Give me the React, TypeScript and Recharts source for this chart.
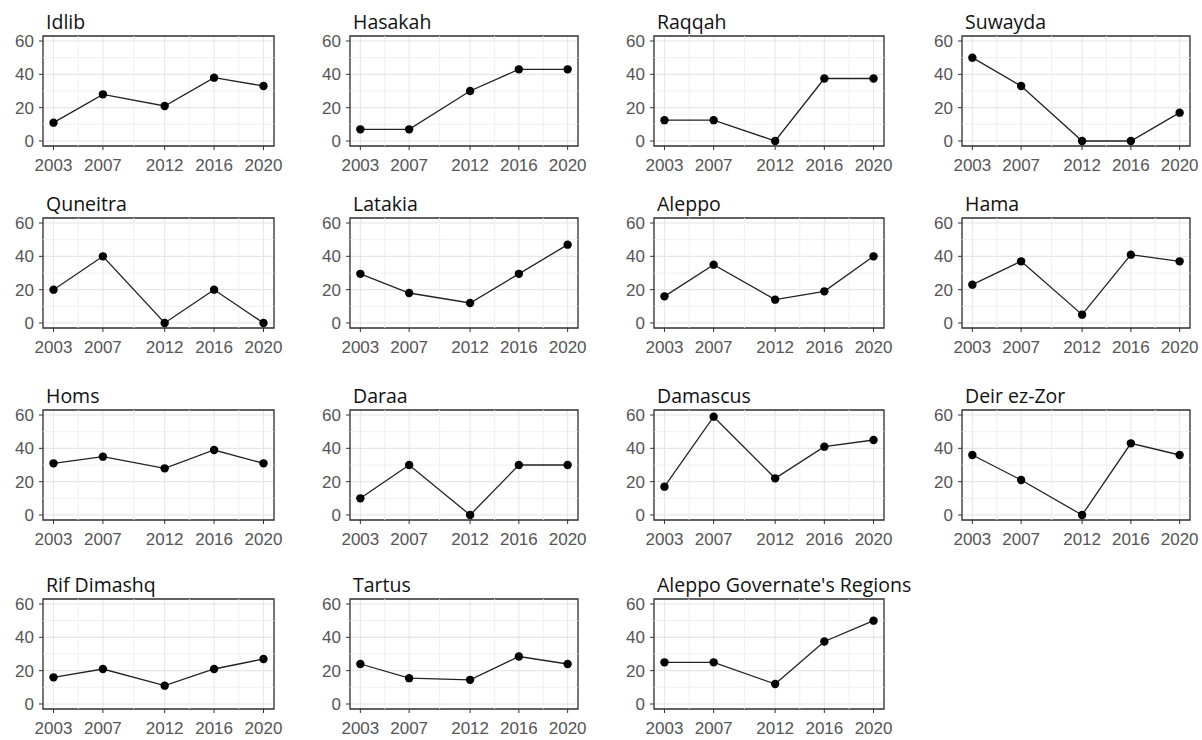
import React from 'react'
import {
  LineChart,
  Line,
  XAxis,
  YAxis,
  CartesianGrid,
  ReferenceLine,
  ReferenceArea,
} from 'recharts'

// survey years and axis ticks
const YEARS = [2003, 2007, 2012, 2016, 2020]
const Y_TICKS = [0, 20, 40, 60]
const X_MINOR = [2005, 2009.5, 2014, 2018]
const Y_MINOR = [10, 30, 50]

const REGIONS = [
  'Idlib',
  'Hasakah',
  'Raqqah',
  'Suwayda',
  'Quneitra',
  'Latakia',
  'Aleppo',
  'Hama',
  'Homs',
  'Daraa',
  'Damascus',
  'Deir ez-Zor',
  'Rif Dimashq',
  'Tartus',
  "Aleppo Governate's Regions",
]

// values per region, one per year
const idlib = [11, 28, 21, 38, 33]
const hasakah = [7, 7, 30, 43, 43]
const raqqah = [12.5, 12.5, 0, 37.5, 37.5]
const suwayda = [50, 33, 0, 0, 17]
const quneitra = [20, 40, 0, 20, 0]
const latakia = [29.5, 18, 12, 29.5, 47]
const aleppo = [16, 35, 14, 19, 40]
const hama = [23, 37, 5, 41, 37]
const homs = [31, 35, 28, 39, 31]
const daraa = [10, 30, 0, 30, 30]
const damascus = [17, 59, 22, 41, 45]
const deirEzZor = [36, 21, 0, 43, 36]
const rifDimashq = [16, 21, 11, 21, 27]
const tartus = [24, 15.5, 14.5, 28.5, 24]
const aleppoGov = [25, 25, 12, 37.5, 50]

const VALUES = [
  idlib, hasakah, raqqah, suwayda,
  quneitra, latakia, aleppo, hama,
  homs, daraa, damascus, deirEzZor,
  rifDimashq, tartus, aleppoGov,
]

const X_DOMAIN: [number, number] = [2002.15, 2020.85]
const Y_DOMAIN: [number, number] = [-3, 63]

// panel box placement
const COL_LEFT = [43, 350, 654, 962]
const COL_WIDTH = [231, 228, 230, 228]
const ROW_TOP = [36, 218, 410, 599]
const BOX_H = 110
const Y_AXIS_W = 34
const X_AXIS_H = 34
const M_TOP = 4
const M_RIGHT = 16

const tickStyle = { fontSize: 17, fill: '#555555', fontFamily: '"Liberation Sans", Arial, sans-serif' }

function Panel({ title, values, col, row }: { title: string; values: number[]; col: number; row: number }) {
  const data = YEARS.map((year, i) => ({ year, value: values[i] }))
  const boxLeft = COL_LEFT[col]
  const boxW = COL_WIDTH[col]
  const boxTop = ROW_TOP[row]

  return (
    <>
      <div
        style={{
          position: 'absolute',
          left: boxLeft + 3,
          top: boxTop - 24,
          fontFamily: '"Open Sans", "Noto Sans", sans-serif',
          fontSize: 19.5,
          lineHeight: '19.5px',
          color: '#111111',
          whiteSpace: 'nowrap',
        }}
      >
        {title}
      </div>
      <div style={{ position: 'absolute', left: boxLeft - Y_AXIS_W, top: boxTop - M_TOP }}>
        <LineChart
          width={Y_AXIS_W + boxW + M_RIGHT}
          height={M_TOP + BOX_H + X_AXIS_H}
          data={data}
          margin={{ top: M_TOP, right: M_RIGHT, bottom: 0, left: 0 }}
        >
          <CartesianGrid stroke="#e6e6e6" strokeWidth={1.1} />
          {X_MINOR.map((x) => (
            <ReferenceLine key={'x' + x} x={x} stroke="#eeeeee" strokeWidth={0.9} />
          ))}
          {Y_MINOR.map((y) => (
            <ReferenceLine key={'y' + y} y={y} stroke="#eeeeee" strokeWidth={0.9} />
          ))}
          <XAxis
            dataKey="year"
            type="number"
            domain={X_DOMAIN}
            ticks={YEARS}
            interval={0}
            height={X_AXIS_H}
            axisLine={false}
            tickLine={{ stroke: '#333333' }}
            tickSize={4}
            tickMargin={9}
            tick={tickStyle}
          />
          <YAxis
            type="number"
            domain={Y_DOMAIN}
            ticks={Y_TICKS}
            interval={0}
            width={Y_AXIS_W}
            axisLine={false}
            tickLine={{ stroke: '#333333' }}
            tickSize={4}
            tickMargin={5}
            tick={tickStyle}
            allowDataOverflow
          />
          <ReferenceArea
            x1={X_DOMAIN[0]}
            x2={X_DOMAIN[1]}
            y1={Y_DOMAIN[0]}
            y2={Y_DOMAIN[1]}
            fill="none"
            fillOpacity={0}
            stroke="#333333"
            strokeWidth={1.3}
            ifOverflow="visible"
          />
          <Line
            dataKey="value"
            stroke="#222222"
            strokeWidth={1.3}
            dot={{ r: 4.2, fill: '#000000', stroke: '#000000', strokeWidth: 0 }}
            isAnimationActive={false}
          />
        </LineChart>
      </div>
    </>
  )
}

export default function App() {
  return (
    <div
      style={{
        position: 'absolute',
        left: 0,
        top: 0,
        width: 1202,
        height: 740,
        background: '#ffffff',
        overflow: 'hidden',
      }}
    >
      {REGIONS.map((name, i) => (
        <Panel key={name} title={name} values={VALUES[i]} col={i % 4} row={Math.floor(i / 4)} />
      ))}
    </div>
  )
}
